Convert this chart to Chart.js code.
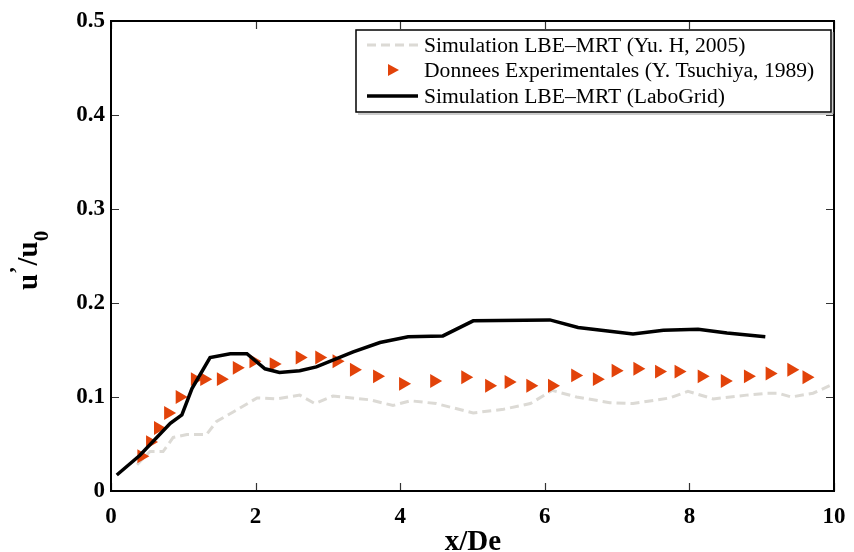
<!DOCTYPE html>
<html>
<head>
<meta charset="utf-8">
<title>u'/u0 vs x/De</title>
<script src="https://cdn.jsdelivr.net/npm/chart.js@4/dist/chart.umd.min.js"></script>
<style>
  body { margin: 0; background: #fff; }
  #wrap { width: 854px; height: 552px; }
</style>
</head>
<body>
<div id="wrap"><canvas id="c" width="854" height="552"></canvas></div>
<script>
// Data
const xTicks = [0, 2, 4, 6, 8, 10];
const yTicks = [0, 0.1, 0.2, 0.3, 0.4, 0.5];

// Simulation LBE-MRT (Yu. H, 2005) - grey dashed
const xYu = [0.36, 0.54, 0.72, 0.86, 1.05, 1.32, 1.46, 1.69, 2.02, 2.29, 2.61, 2.82, 3.07, 3.58, 3.90, 4.14, 4.50, 5.01, 5.43, 5.80, 6.10, 6.44, 6.90, 7.22, 7.73, 7.98, 8.33, 8.79, 9.07, 9.23, 9.41, 9.71, 9.94];
const yYu = [0.028, 0.042, 0.042, 0.057, 0.060, 0.060, 0.074, 0.084, 0.099, 0.098, 0.102, 0.093, 0.101, 0.097, 0.091, 0.096, 0.093, 0.083, 0.087, 0.093, 0.107, 0.100, 0.094, 0.093, 0.099, 0.106, 0.098, 0.102, 0.104, 0.104, 0.100, 0.104, 0.112];

// Donnees Experimentales (Y. Tsuchiya, 1989) - triangles
const xExp = [0.42, 0.54, 0.65, 0.79, 0.95, 1.16, 1.29, 1.52, 1.74, 1.97, 2.25, 2.61, 2.88, 3.12, 3.36, 3.68, 4.04, 4.47, 4.90, 5.23, 5.50, 5.80, 6.10, 6.42, 6.72, 6.98, 7.28, 7.58, 7.85, 8.17, 8.49, 8.81, 9.11, 9.41, 9.62];
const yExp = [0.037, 0.052, 0.067, 0.083, 0.100, 0.119, 0.119, 0.119, 0.131, 0.138, 0.135, 0.142, 0.142, 0.138, 0.129, 0.122, 0.114, 0.117, 0.121, 0.112, 0.116, 0.112, 0.112, 0.123, 0.119, 0.128, 0.130, 0.127, 0.127, 0.122, 0.117, 0.122, 0.125, 0.129, 0.121];

// Simulation LBE-MRT (LaboGrid) - black line
const xLabo = [0.08, 0.40, 0.82, 0.98, 1.12, 1.37, 1.65, 1.88, 2.13, 2.33, 2.61, 2.84, 3.35, 3.72, 4.11, 4.59, 5.01, 6.07, 6.46, 7.22, 7.64, 8.12, 8.52, 9.05];
const yLabo = [0.017, 0.038, 0.072, 0.081, 0.109, 0.142, 0.146, 0.146, 0.130, 0.126, 0.128, 0.132, 0.148, 0.158, 0.164, 0.165, 0.181, 0.182, 0.174, 0.167, 0.171, 0.172, 0.168, 0.164];

const labels = [
  "Simulation LBE\u2013MRT (Yu. H, 2005)",
  "Donnees Experimentales (Y. Tsuchiya, 1989)",
  "Simulation LBE\u2013MRT (LaboGrid)"
];

const GREY = "#dcdad5";
const ORANGE = "#e2430a";
const SERIF = '"Liberation Serif", "Times New Roman", serif';

function pts(xs, ys) {
  return xs.map((x, i) => ({ x: x, y: ys[i] }));
}

// box around the plot + inward ticks on all four sides (matlab style)
const boxPlugin = {
  id: "box",
  afterDatasetsDraw(chart) {
    const ctx = chart.ctx;
    const a = chart.chartArea;
    const xs = chart.scales.x, ys = chart.scales.y;
    ctx.save();
    ctx.strokeStyle = "#333";
    ctx.lineWidth = 1.2;
    xTicks.forEach(v => {
      const px = Math.round(xs.getPixelForValue(v)) + 0.5;
      ctx.beginPath();
      ctx.moveTo(px, a.bottom); ctx.lineTo(px, a.bottom - 8);
      ctx.moveTo(px, a.top); ctx.lineTo(px, a.top + 8);
      ctx.stroke();
    });
    yTicks.forEach(v => {
      const py = Math.round(ys.getPixelForValue(v)) + 0.5;
      ctx.beginPath();
      ctx.moveTo(a.left, py); ctx.lineTo(a.left + 8, py);
      ctx.moveTo(a.right, py); ctx.lineTo(a.right - 8, py);
      ctx.stroke();
    });
    ctx.strokeStyle = "#000";
    ctx.lineWidth = 2;
    ctx.strokeRect(a.left, a.top, a.right - a.left, a.bottom - a.top);
    ctx.restore();
  },
  afterDraw(chart) {
    const ctx = chart.ctx;
    ctx.save();
    ctx.fillStyle = "#000";

    // x axis title
    ctx.font = "bold 29px " + SERIF;
    ctx.textAlign = "center";
    ctx.textBaseline = "alphabetic";
    ctx.fillText("x/De", 473, 550);

    // y axis title u'/u0, rotated
    ctx.translate(37, 290);
    ctx.rotate(-Math.PI / 2);
    ctx.textAlign = "left";
    let cx = 0;
    ctx.font = "bold 29px " + SERIF;
    ctx.fillText("u", cx, 0);
    cx += ctx.measureText("u").width;
    ctx.font = "bold 22px " + SERIF;
    ctx.fillText("\u2019", cx, -13);
    cx += ctx.measureText("\u2019").width + 1;
    ctx.font = "bold 29px " + SERIF;
    ctx.fillText("/u", cx, 0);
    cx += ctx.measureText("/u").width;
    ctx.font = "bold 21px " + SERIF;
    ctx.fillText("0", cx, 11);
    ctx.restore();

    // legend box
    ctx.save();
    const lx = 356, ly = 30, lw = 475, lh = 82;
    ctx.fillStyle = "#fff";
    ctx.fillRect(lx, ly, lw, lh);
    ctx.strokeStyle = "#999";
    ctx.lineWidth = 1;
    ctx.beginPath();
    ctx.moveTo(lx + lw + 2, ly + 2); ctx.lineTo(lx + lw + 2, ly + lh + 2); ctx.lineTo(lx + 2, ly + lh + 2);
    ctx.stroke();
    ctx.strokeStyle = "#000";
    ctx.lineWidth = 1.5;
    ctx.strokeRect(lx, ly, lw, lh);

    const rows = [45, 70, 96];
    ctx.font = "21.6px " + SERIF;
    ctx.fillStyle = "#000";
    ctx.textBaseline = "middle";
    labels.forEach((t, i) => ctx.fillText(t, 424, rows[i] + 1));

    // sample marks
    ctx.lineWidth = 3;
    ctx.strokeStyle = GREY;
    ctx.setLineDash([9, 5]);
    ctx.beginPath(); ctx.moveTo(367, rows[0]); ctx.lineTo(418, rows[0]); ctx.stroke();
    ctx.setLineDash([]);
    ctx.lineWidth = 3.5;
    ctx.strokeStyle = "#000";
    ctx.beginPath(); ctx.moveTo(367, rows[2]); ctx.lineTo(418, rows[2]); ctx.stroke();
    ctx.fillStyle = ORANGE;
    ctx.beginPath();
    ctx.moveTo(388, rows[1] - 6); ctx.lineTo(399, rows[1]); ctx.lineTo(388, rows[1] + 6);
    ctx.closePath(); ctx.fill();
    ctx.restore();
  }
};

const chart = new Chart(document.getElementById("c"), {
  type: "scatter",
  data: {
    datasets: [
      {
        label: labels[0],
        data: pts(xYu, yYu),
        showLine: true,
        borderColor: GREY,
        borderWidth: 3,
        borderDash: [9, 5],
        pointRadius: 0,
        order: 2
      },
      {
        label: labels[1],
        data: pts(xExp, yExp),
        showLine: false,
        pointStyle: "triangle",
        rotation: 90,
        pointRadius: 8,
        backgroundColor: ORANGE,
        borderColor: ORANGE,
        borderWidth: 0,
        order: 1
      },
      {
        label: labels[2],
        data: pts(xLabo, yLabo),
        showLine: true,
        borderColor: "#000",
        borderWidth: 3.5,
        pointRadius: 0,
        order: 0
      }
    ]
  },
  options: {
    responsive: false,
    animation: false,
    layout: { padding: { left: 0, top: 21, right: 20, bottom: 0 } },
    plugins: {
      legend: { display: false },
      tooltip: { enabled: false }
    },
    scales: {
      x: {
        type: "linear",
        min: 0, max: 10,
        grid: { display: false, drawTicks: false },
        border: { display: false },
        // fixed height, and no extra side padding for the "10" label
        afterFit(s) { s.height = 61; s.paddingRight = 0; s.paddingLeft = 0; },
        afterBuildTicks(s) { s.ticks = xTicks.map(v => ({ value: v })); },
        ticks: {
          padding: 12,
          color: "#000",
          maxRotation: 0,
          font: { family: SERIF, size: 23, weight: "bold" }
        }
      },
      y: {
        type: "linear",
        min: 0, max: 0.5,
        grid: { display: false, drawTicks: false },
        border: { display: false },
        afterFit(s) { s.width = 111; s.paddingTop = 0; s.paddingBottom = 0; },
        afterBuildTicks(s) { s.ticks = yTicks.map(v => ({ value: v })); },
        ticks: {
          padding: 6,
          color: "#000",
          font: { family: SERIF, size: 23, weight: "bold" },
          callback: v => String(Math.round(v * 10) / 10)
        }
      }
    }
  },
  plugins: [boxPlugin]
});
console.log("chart area", chart.chartArea);
</script>
</body>
</html>
